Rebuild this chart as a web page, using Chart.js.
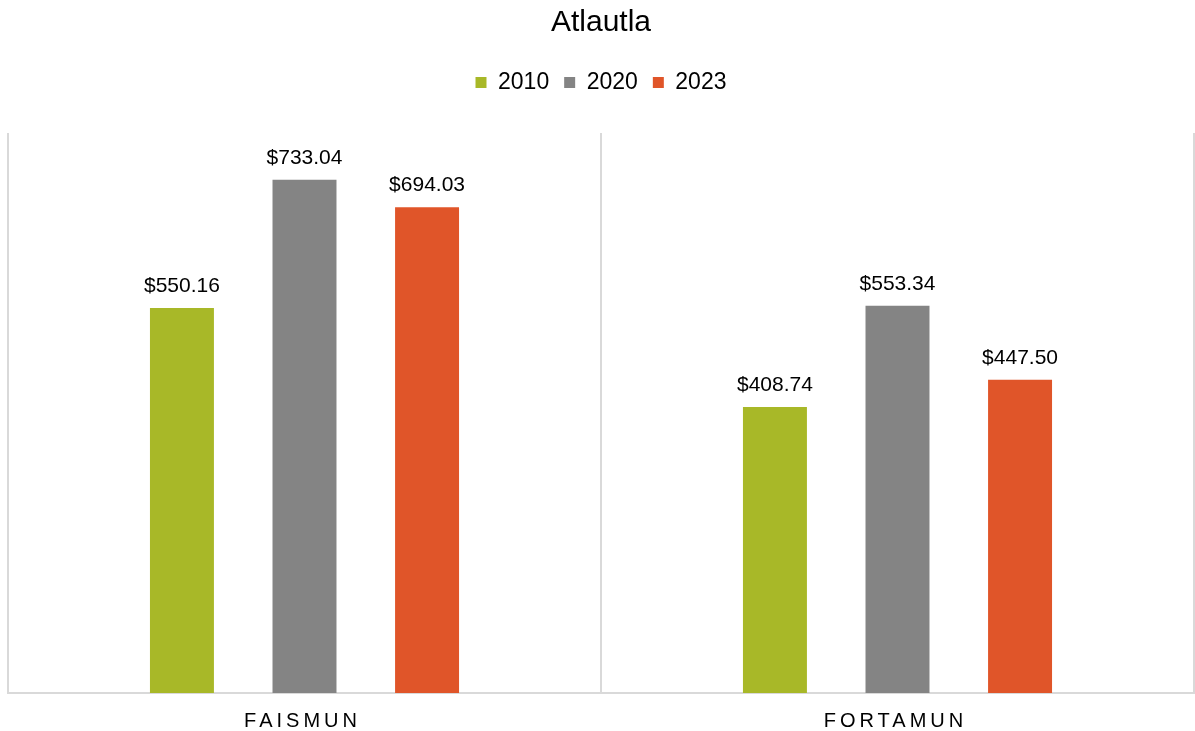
<!DOCTYPE html>
<html>
<head>
<meta charset="utf-8">
<title>Atlautla</title>
<script src="https://cdn.jsdelivr.net/npm/chart.js@4/dist/chart.umd.min.js"></script>
<style>
    body { margin: 0; background: #ffffff; }
    #wrap { width: 1195px; height: 731px; position: relative; }
</style>
</head>
<body>
<div id="wrap"><canvas id="fondosChart"></canvas></div>
<script>
let categories = ["FAISMUN", "FORTAMUN"];
let years = ["2010", "2020", "2023"];
let values2010 = [550.16, 408.74];
let values2020 = [733.04, 553.34];
let values2023 = [694.03, 447.50];
let barColors = ["#a8b828", "#848484", "#e05529"];

let fontFamily = '"Liberation Sans", Arial, sans-serif';

function money(v) {
    return "$" + v.toFixed(2);
}

// Labels above each bar
let valueLabels = {
    id: "valueLabels",
    afterDatasetsDraw: function(chart) {
        let ctx = chart.ctx;
        ctx.save();
        ctx.font = "21px " + fontFamily;
        ctx.fillStyle = "#000000";
        ctx.textAlign = "center";
        ctx.textBaseline = "alphabetic";
        chart.data.datasets.forEach(function(ds, i) {
            let meta = chart.getDatasetMeta(i);
            meta.data.forEach(function(bar, j) {
                ctx.fillText(money(ds.data[j]), bar.x, bar.y - 16);
            });
        });
        ctx.restore();
    }
};

// Category names under the axis, spaced out
let categoryLabels = {
    id: "categoryLabels",
    afterDraw: function(chart) {
        let ctx = chart.ctx;
        let xScale = chart.scales.x;
        ctx.save();
        ctx.font = "20px " + fontFamily;
        ctx.fillStyle = "#000000";
        ctx.textAlign = "center";
        ctx.textBaseline = "alphabetic";
        ctx.letterSpacing = "4px";
        chart.data.labels.forEach(function(label, i) {
            ctx.fillText(label, xScale.getPixelForValue(i) - 2, chart.chartArea.bottom + 34);
        });
        ctx.restore();
    }
};

// Extra room between the legend and the bars
let legendSpacer = {
    id: "legendSpacer",
    beforeInit: function(chart) {
        if (!chart.legend) return;
        let origFit = chart.legend.fit;
        chart.legend.fit = function() {
            origFit.call(this);
            this.height += 29;
        };
    }
};

let ctx = document.getElementById("fondosChart").getContext("2d");

let fondosChart = new Chart(ctx, {
    type: "bar",
    data: {
        labels: categories,
        datasets: [
            { label: years[0], data: values2010, backgroundColor: barColors[0] },
            { label: years[1], data: values2020, backgroundColor: barColors[1] },
            { label: years[2], data: values2023, backgroundColor: barColors[2] }
        ]
    },
    options: {
        responsive: true,
        maintainAspectRatio: false,
        animation: false,
        categoryPercentage: 0.62,
        barPercentage: 0.522,
        layout: {
            padding: { left: 8, right: 1, top: 0, bottom: 38 }
        },
        plugins: {
            title: {
                display: true,
                text: "Atlautla",
                color: "#000000",
                font: { family: fontFamily, size: 30, weight: "normal" },
                padding: { top: 5, bottom: 15 }
            },
            legend: {
                display: true,
                position: "top",
                labels: {
                    color: "#000000",
                    font: { family: fontFamily, size: 23 },
                    boxWidth: 11,
                    boxHeight: 11,
                    padding: 15
                }
            },
            tooltip: { enabled: false }
        },
        scales: {
            x: {
                offset: true,
                grid: {
                    display: true,
                    offset: true,
                    drawTicks: false,
                    color: "#d9d9d9",
                    lineWidth: 2
                },
                border: { display: true, color: "#d9d9d9", width: 2 },
                ticks: { display: false }
            },
            y: {
                display: false,
                min: 0,
                max: 800
            }
        }
    },
    plugins: [legendSpacer, valueLabels, categoryLabels]
});
</script>
</body>
</html>
